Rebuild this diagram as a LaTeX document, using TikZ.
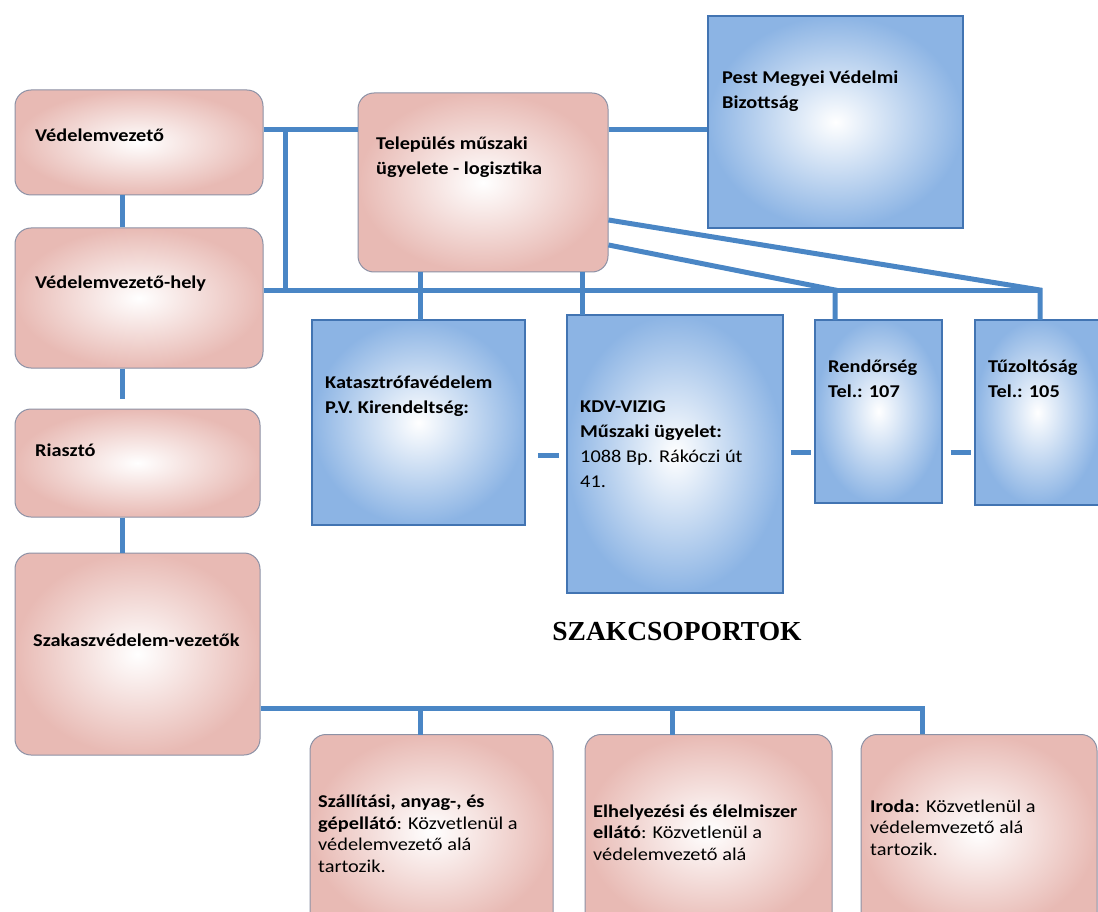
\documentclass[tikz,border=0pt]{standalone}
\usepackage{fontspec}
\setmainfont{Carlito}[FakeStretch=1.13]
\newfontfamily\titlefont{Liberation Serif}
\definecolor{linkblue}{RGB}{74,134,197}
\definecolor{rosa}{RGB}{232,186,180}
\definecolor{rosaline}{RGB}{140,145,165}
\definecolor{sky}{RGB}{140,180,228}
\definecolor{skyline}{RGB}{66,116,178}

\begin{document}
\begin{tikzpicture}[x=1pt, y=-1pt,
	pinkbox/.style={draw=rosaline, line width=1pt, rounded corners=16pt, inner color=white, outer color=rosa},
	bluebox/.style={draw=skyline, line width=1.5pt, inner color=white, outer color=sky},
	boxtext/.style={anchor=base west, align=left, inner sep=0pt, font=\fontsize{18}{25}\selectfont},
	subtext/.style={boxtext, font=\fontsize{18}{21.5}\selectfont},
	link/.style={draw=linkblue, line width=5pt}]
	\useasboundingbox (0,0) rectangle (1098,912);

	\node[pinkbox, minimum width=248pt, minimum height=105pt] (vv) at (139,142.5) {};
	\node[pinkbox, minimum width=248pt, minimum height=140pt] (vvh) at (139,298) {};
	\node[pinkbox, minimum width=245pt, minimum height=108pt] (ria) at (137.5,463) {};
	\node[pinkbox, minimum width=245pt, minimum height=202pt] (szv) at (137.5,654) {};
	\node[pinkbox, minimum width=250pt, minimum height=179pt] (tel) at (483,182.5) {};

	\node[bluebox, minimum width=255pt, minimum height=212pt] (pmv) at (835.5,122) {};
	\node[bluebox, minimum width=213pt, minimum height=205pt] (kat) at (418.5,422.5) {};
	\node[bluebox, minimum width=216pt, minimum height=278pt] (kdv) at (675,454) {};
	\node[bluebox, minimum width=127pt, minimum height=183pt] (ren) at (878.5,411.5) {};
	\node[bluebox, minimum width=125pt, minimum height=185pt] (tuz) at (1037.5,412.5) {};

	\node[pinkbox, minimum width=243pt, minimum height=195pt] (sza) at (431.5,832) {};
	\node[pinkbox, minimum width=247pt, minimum height=195pt] (elh) at (708.5,832) {};
	\node[pinkbox, minimum width=236pt, minimum height=195pt] (iro) at (979,832) {};

	\node[boxtext] (vv-t) at (35,142) {\textbf{Védelemvezető}};
	\node[boxtext] (vvh-t) at (35,288) {\textbf{Védelemvezető-hely}};
	\node[boxtext] (ria-t) at (35,456) {\textbf{Riasztó}};
	\node[boxtext] (szv-t) at (33,646) {\textbf{Szakaszvédelem-vezetők}};
	\node[boxtext] (tel-t) at (376,175) {\textbf{Település műszaki}\\\textbf{ügyelete - logisztika}};
	\node[boxtext] (pmv-t) at (722,109) {\textbf{Pest Megyei Védelmi}\\\textbf{Bizottság}};
	\node[boxtext] (kat-t) at (325,413) {\textbf{Katasztrófavédelem}\\\textbf{P.V. Kirendeltség:}};
	\node[boxtext] (kdv-t) at (580,487) {\textbf{KDV-VIZIG}\\\textbf{Műszaki ügyelet:}\\1088 Bp. Rákóczi út\\41.};
	\node[boxtext] (ren-t) at (828,397) {\textbf{Rendőrség}\\\textbf{Tel.: 107}};
	\node[boxtext] (tuz-t) at (988,397) {\textbf{Tűzoltóság}\\\textbf{Tel.: 105}};
	\node[subtext] (sza-t) at (318,872) {\textbf{Szállítási, anyag-, és}\\\textbf{gépellátó}: Közvetlenül a\\védelemvezető alá\\tartozik.};
	\node[subtext] (elh-t) at (593,860) {\textbf{Elhelyezési és élelmiszer}\\\textbf{ellátó}: Közvetlenül a\\védelemvezető alá};
	\node[subtext] (iro-t) at (870,855) {\textbf{Iroda}: Közvetlenül a\\védelemvezető alá\\tartozik.};

	\node[font=\titlefont\bfseries\fontsize{27.5}{30}\selectfont] (title) at (677,632) {SZAKCSOPORTOK};

	\coordinate (top-j) at (285,130);
	\coordinate (bus-j) at (285,290);
	\coordinate (chain) at (122,0);
	\coordinate (kat-in) at (420,320);
	\coordinate (kdv-in) at (582,315);
	\coordinate (ren-in) at (835,320);
	\coordinate (tuz-in) at (1040,320);
	\coordinate (sub-j) at (922,708);
	\coordinate (sza-in) at (420,735);
	\coordinate (elh-in) at (672,735);

	\draw[link] (vv.east |- top-j) -- (tel.west |- top-j);
	\draw[link] (top-j) -- (bus-j);
	\draw[link] (vvh.east |- bus-j) -- (tuz-in |- bus-j);
	\draw[link] (tel.east |- top-j) -- (pmv.west |- top-j);
	\draw[link] (tel.south -| kat-in) -- (kat-in);
	\draw[link] (tel.south -| kdv-in) -- (kdv-in);
	\draw[link] (tel.east |- 0,245) -- (ren-in |- bus-j) -- (ren-in);
	\draw[link] (tel.east |- 0,220) -- (tuz-in |- bus-j) -- (tuz-in);

	\draw[link] (vv.south -| chain) -- (vvh.north -| chain);
	\draw[link, shorten >=10pt] (vvh.south -| chain) -- (ria.north -| chain);
	\draw[link] (ria.south -| chain) -- (szv.north -| chain);

	\draw[link] (szv.east |- sub-j) -- (sub-j) -- (sub-j |- iro.north);
	\draw[link] (sza-in |- sub-j) -- (sza-in);
	\draw[link] (elh-in |- sub-j) -- (elh-in);

	\draw[link, shorten <=12pt, shorten >=7pt] (kat.east |- 0,455) -- (kdv.west |- 0,455);
	\draw[link, shorten <=7pt, shorten >=3pt] (kdv.east |- 0,452) -- (ren.west |- 0,452);
	\draw[link, shorten <=8pt, shorten >=3pt] (ren.east |- 0,452) -- (tuz.west |- 0,452);
\end{tikzpicture}
\end{document}
